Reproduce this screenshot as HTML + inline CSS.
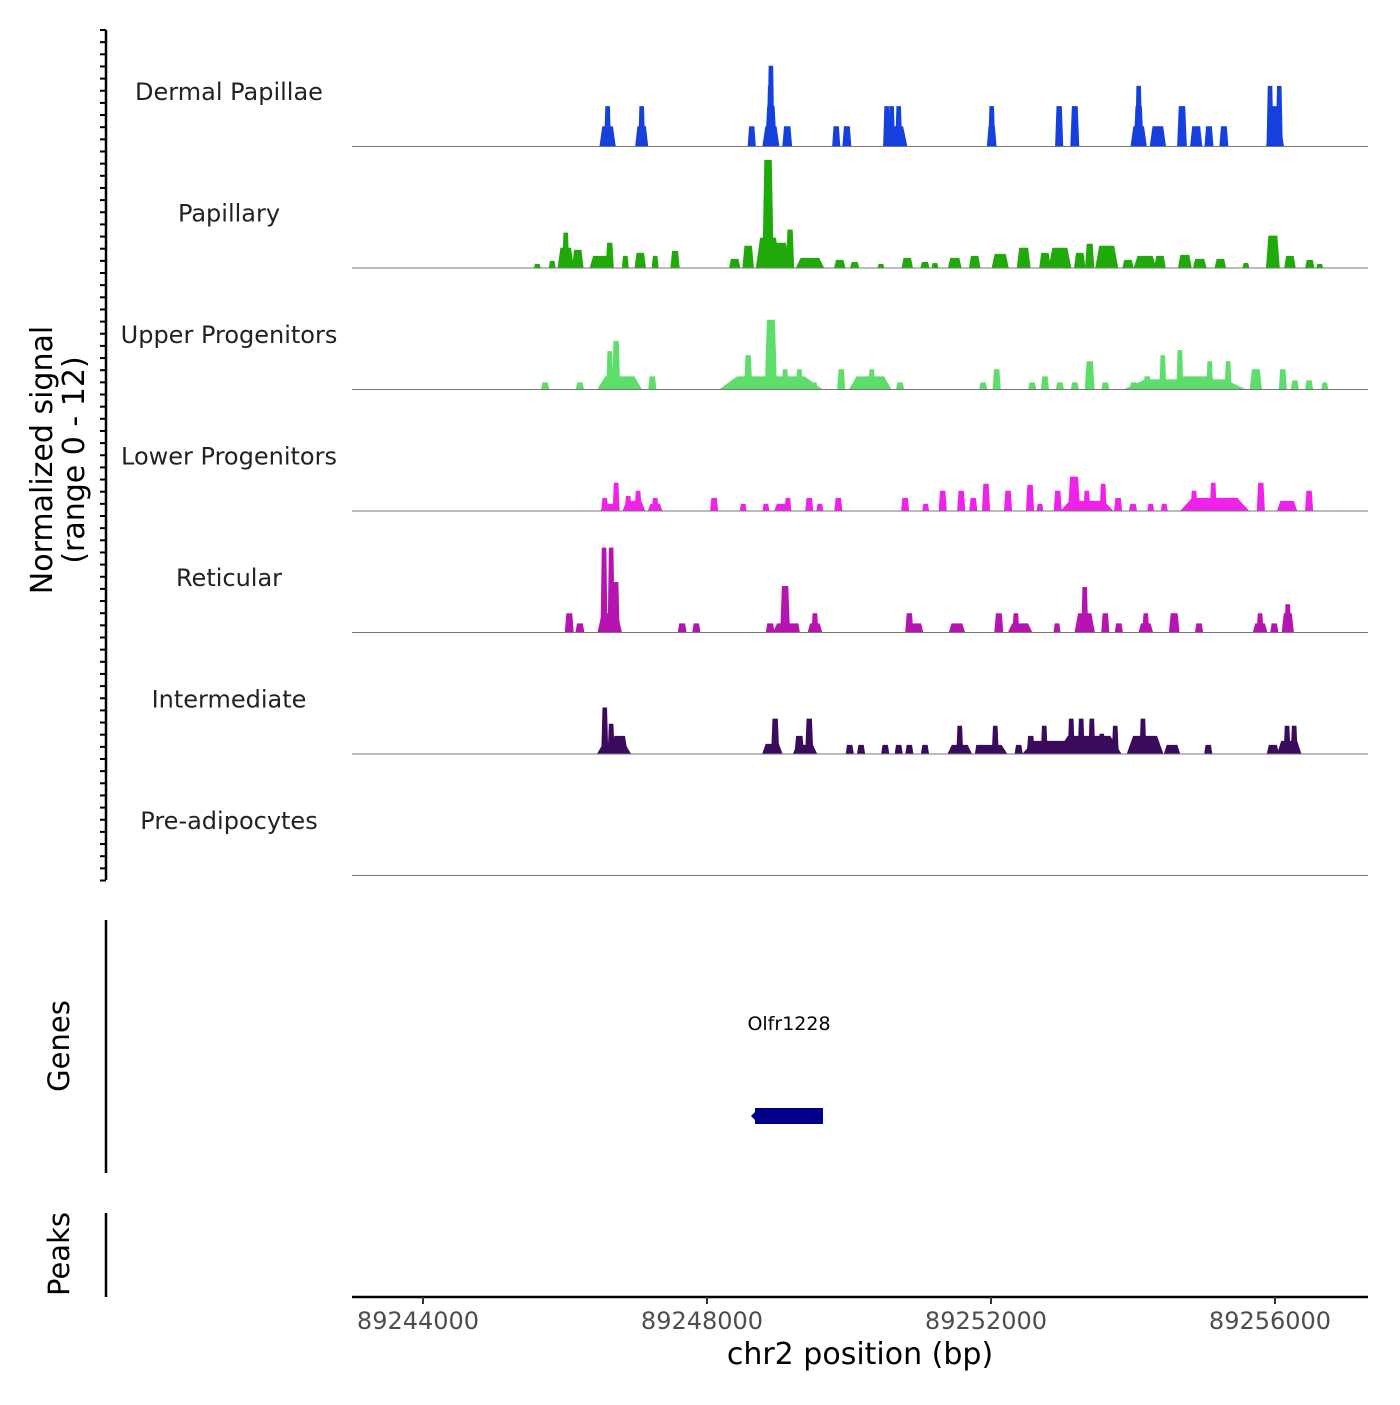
<!DOCTYPE html>
<html><head><meta charset="utf-8"><style>
html,body{margin:0;padding:0;background:#fff;}
svg text{font-family:"DejaVu Sans","Liberation Sans",sans-serif;}
</style></head><body>
<svg id="chart" width="1400" height="1400" viewBox="0 0 1400 1400" xmlns="http://www.w3.org/2000/svg">
<g id="tracks"></g>
<g id="axes"></g>
<text transform="translate(52,460) rotate(-90)" text-anchor="middle" font-size="30" fill="#000">Normalized signal</text>
<text transform="translate(84,460) rotate(-90)" text-anchor="middle" font-size="30" fill="#000">(range 0 - 12)</text>
<text transform="translate(69,1046) rotate(-90)" text-anchor="middle" font-size="29" fill="#000">Genes</text>
<line x1="106" y1="920" x2="106" y2="1173" stroke="#000" stroke-width="2.5"/>
<text x="789" y="1030" text-anchor="middle" font-size="19" fill="#000">Olfr1228</text>
<rect x="755" y="1108" width="68" height="16" fill="#00008b"/>
<polygon points="751,1116 756,1111 756,1121" fill="#00008b"/>
<text transform="translate(69,1254) rotate(-90)" text-anchor="middle" font-size="29" fill="#000">Peaks</text>
<line x1="106" y1="1213" x2="106" y2="1297" stroke="#000" stroke-width="2.5"/>
<text x="860" y="1364" text-anchor="middle" font-size="30" fill="#000">chr2 position (bp)</text>
</svg>
<script>
const trackNames = ["Dermal Papillae","Papillary","Upper Progenitors","Lower Progenitors","Reticular","Intermediate","Pre-adipocytes"];
const trackColors = ["#1540dd","#1faa0a","#5ddd6a","#ee22e8","#b514b0","#3a0a5c","#888888"];
const xTickValues = [89244000, 89248000, 89252000, 89256000];
const xTickLabels = ["89244000","89248000","89252000","89256000"];
// peaks: [position kb, width bp, signal height]
const dermalPeaks = [[89246.60,200,2],[89246.60,40,4],[89247.08,160,2],[89247.08,60,4],[89248.63,100,2],[89248.90,210,2],[89248.90,140,4],[89248.89,60,6],[89248.90,20,8],[89249.13,120,2],[89249.82,100,2],[89249.97,110,2],[89250.65,300,2],[89250.53,40,4],[89250.60,40,4],[89250.70,40,4],[89252.01,120,2],[89252.01,60,4],[89252.96,100,4],[89253.18,110,4],[89254.08,200,2],[89254.08,120,4],[89254.08,30,6],[89254.35,200,2],[89254.69,120,4],[89254.89,150,2],[89255.07,110,2],[89255.28,110,2],[89256.00,220,2],[89256.00,140,4],[89255.93,30,6],[89256.06,30,6]];
const papillaryPeaks = [[89245.61,85,0.4],[89245.82,85,0.7],[89246.01,200,2.0],[89246.01,60,3.5],[89246.18,141,1.8],[89246.49,250,1.2],[89246.63,100,2.5],[89246.85,85,1.2],[89247.06,141,1.5],[89247.27,85,1.2],[89247.55,113,1.7],[89248.39,141,0.9],[89248.58,141,2.2],[89248.86,140,10.7],[89248.86,300,3],[89249.00,300,2.5],[89249.17,100,3.8],[89249.45,350,1.0],[89249.87,141,0.8],[89250.08,113,0.6],[89250.45,85,0.4],[89250.82,141,1.0],[89251.07,113,0.6],[89251.21,85,0.5],[89251.49,169,1.0],[89251.77,141,1.2],[89252.13,210,1.4],[89252.46,169,2.0],[89252.76,141,1.5],[89252.97,282,2.0],[89253.25,141,1.5],[89253.39,113,2.4],[89253.63,282,2.2],[89253.93,141,0.8],[89254.17,282,1.2],[89254.38,141,1.2],[89254.73,169,1.3],[89254.94,169,0.9],[89255.23,141,0.9],[89255.59,85,0.5],[89255.97,169,3.2],[89256.21,141,1.2],[89256.49,113,0.8],[89256.63,60,0.4]];
const upperPeaks = [[89245.72,100,0.7],[89246.21,100,0.7],[89246.77,550,1.3],[89246.72,100,4.8],[89246.63,80,3.8],[89247.23,100,1.3],[89248.90,1270,1.3],[89248.90,150,6.9],[89248.58,100,3.4],[89249.10,80,2],[89249.30,80,2],[89249.51,80,0.7],[89249.89,100,2],[89250.30,520,1.3],[89250.32,80,2],[89250.72,100,0.7],[89251.89,100,0.7],[89252.08,100,2],[89252.58,100,0.7],[89252.76,100,1.3],[89252.97,100,0.7],[89253.18,100,0.7],[89253.39,120,2.8],[89253.61,100,0.7],[89254.01,100,0.7],[89254.73,1500,1.0],[89254.20,100,1.3],[89254.42,80,3.4],[89254.66,80,3.9],[89254.90,550,1.3],[89255.08,80,2.8],[89255.34,80,2.8],[89255.73,150,2],[89256.11,100,2],[89256.28,100,0.9],[89256.48,100,0.9],[89256.70,80,0.7]];
const lowerPeaks = [[89246.63,230,0.7],[89246.72,80,2.8],[89246.56,60,1.3],[89246.97,280,1.0],[89247.03,60,2],[89246.89,60,1.5],[89247.27,180,0.7],[89247.27,60,1.3],[89248.10,100,1.3],[89248.51,80,0.7],[89248.83,80,0.7],[89249.06,200,0.7],[89249.14,60,1.3],[89249.44,100,1.3],[89249.59,80,0.7],[89249.85,100,1.3],[89250.79,100,1.3],[89251.08,80,0.7],[89251.32,100,2],[89251.58,100,2],[89251.75,100,1.3],[89251.93,100,2.7],[89252.24,100,2],[89252.55,100,2.6],[89252.69,80,0.7],[89252.94,100,2],[89253.35,650,1.0],[89253.17,150,3.4],[89253.35,80,2],[89253.58,80,2.7],[89253.79,100,1.3],[89254.00,100,0.7],[89254.25,80,0.7],[89254.44,80,0.7],[89255.15,850,1.3],[89254.86,80,2],[89255.13,80,2.8],[89255.45,80,1.3],[89255.80,100,2.8],[89256.17,250,1.0],[89256.48,100,2]];
const reticularPeaks = [[89246.06,110,1.9],[89246.21,110,0.9],[89246.63,300,1.9],[89246.55,80,8.4],[89246.65,60,8.4],[89246.72,80,5],[89247.65,110,0.9],[89247.85,100,0.9],[89248.89,110,0.9],[89249.10,300,0.9],[89249.10,120,4.6],[89249.25,100,0.9],[89249.52,180,0.9],[89249.52,60,1.9],[89250.85,100,1.9],[89250.96,150,0.9],[89251.52,200,0.9],[89252.11,110,1.9],[89252.41,300,0.9],[89252.35,60,1.9],[89252.93,80,0.9],[89253.32,250,1.9],[89253.32,60,4.5],[89253.61,100,1.9],[89253.80,100,0.9],[89254.18,180,0.9],[89254.18,60,1.9],[89254.58,130,1.9],[89254.93,100,0.9],[89255.79,180,0.9],[89255.79,60,1.9],[89255.99,100,0.9],[89256.18,150,1.9],[89256.18,60,2.8]];
const intermediatePeaks = [[89246.69,420,1.0],[89246.56,80,4.6],[89246.65,60,3],[89246.77,200,1.8],[89248.92,250,1.0],[89248.96,100,3.5],[89249.38,300,0.9],[89249.30,120,1.8],[89249.44,100,3.5],[89250.01,100,0.9],[89250.17,100,0.9],[89250.51,100,0.9],[89250.70,100,0.9],[89250.85,100,0.9],[89251.07,100,0.9],[89251.56,300,0.9],[89251.56,60,2.8],[89251.83,100,0.9],[89252.00,400,0.9],[89252.06,60,2.8],[89252.39,100,0.9],[89252.56,100,1.8],[89252.90,800,1.3],[89252.75,60,2.8],[89253.38,800,1.8],[89253.13,60,3.5],[89253.27,60,3.5],[89253.42,60,3.5],[89253.56,60,2],[89253.75,60,2.8],[89254.17,450,1.8],[89254.14,80,3.5],[89254.31,150,1.2],[89254.55,200,0.9],[89255.06,100,0.9],[89255.97,150,0.9],[89256.20,300,1.3],[89256.17,60,2.8],[89256.27,60,2.8]];
const preadipocytePeaks = [];
const allPeaks = [dermalPeaks,papillaryPeaks,upperPeaks,lowerPeaks,reticularPeaks,intermediatePeaks,preadipocytePeaks];

const NS="http://www.w3.org/2000/svg";
const X0=352, X1=1368, KB0=89243.0, PXKB=71.0;
const TOP=25, TH=121.5, UNIT=10.1;
function xScale(kb){return X0+(kb-KB0)*PXKB;}
function yScale(i,v){return TOP+(i+1)*TH - v*UNIT;}
function mk(tag,attrs,parent){const e=document.createElementNS(NS,tag);for(const k in attrs)e.setAttribute(k,attrs[k]);parent.appendChild(e);return e;}
const tg=document.getElementById('tracks');
const ag=document.getElementById('axes');
trackNames.forEach((name,i)=>{
  const g=mk('g',{},tg);
  
  
  const base=yScale(i,0);
  allPeaks[i].forEach(p=>{
    const cx=xScale(p[0]);
    const w=Math.max(p[1]/1000*PXKB*1.15,7);
    const tw=Math.max(w*0.65,3.5);
    const top=yScale(i,p[2]);
    const poly=mk('polygon',{points:[(cx-w/2)+','+base,(cx-tw/2)+','+top,(cx+tw/2)+','+top,(cx+w/2)+','+base].join(' '),fill:trackColors[i]},g);
    
    
  });
  const bl=mk('line',{x1:X0,x2:X1,y1:base,y2:base,stroke:'#777','stroke-width':1},g);
  
  
  const t=mk('text',{x:229,y:TOP+i*TH+75,'text-anchor':'middle','font-size':24,fill:'#222'},g);
  
  
  t.textContent=name;
  for(let k=0;k<=10;k++){
    const ty=TOP+i*TH+5+k*TH/10;
    const tk=mk('line',{x1:100,x2:106,y1:ty,y2:ty,stroke:'#000','stroke-width':2},ag);
    
    
  }
});
const ya=mk('line',{x1:106,x2:106,y1:30,y2:880,stroke:'#000','stroke-width':2.5},ag);


const xa=mk('line',{x1:X0,x2:X1,y1:1297,y2:1297,stroke:'#000','stroke-width':2.5},ag);


xTickValues.forEach((v,j)=>{
  const x=xScale(v/1000);
  const tk=mk('line',{x1:x,x2:x,y1:1297,y2:1304,stroke:'#333','stroke-width':2},ag);
  
  
  const lb=mk('text',{x:x-5,y:1329,'text-anchor':'middle','font-size':24,fill:'#4d4d4d'},ag);
  
  
  lb.textContent=xTickLabels[j];
});
</script>
</body></html>
